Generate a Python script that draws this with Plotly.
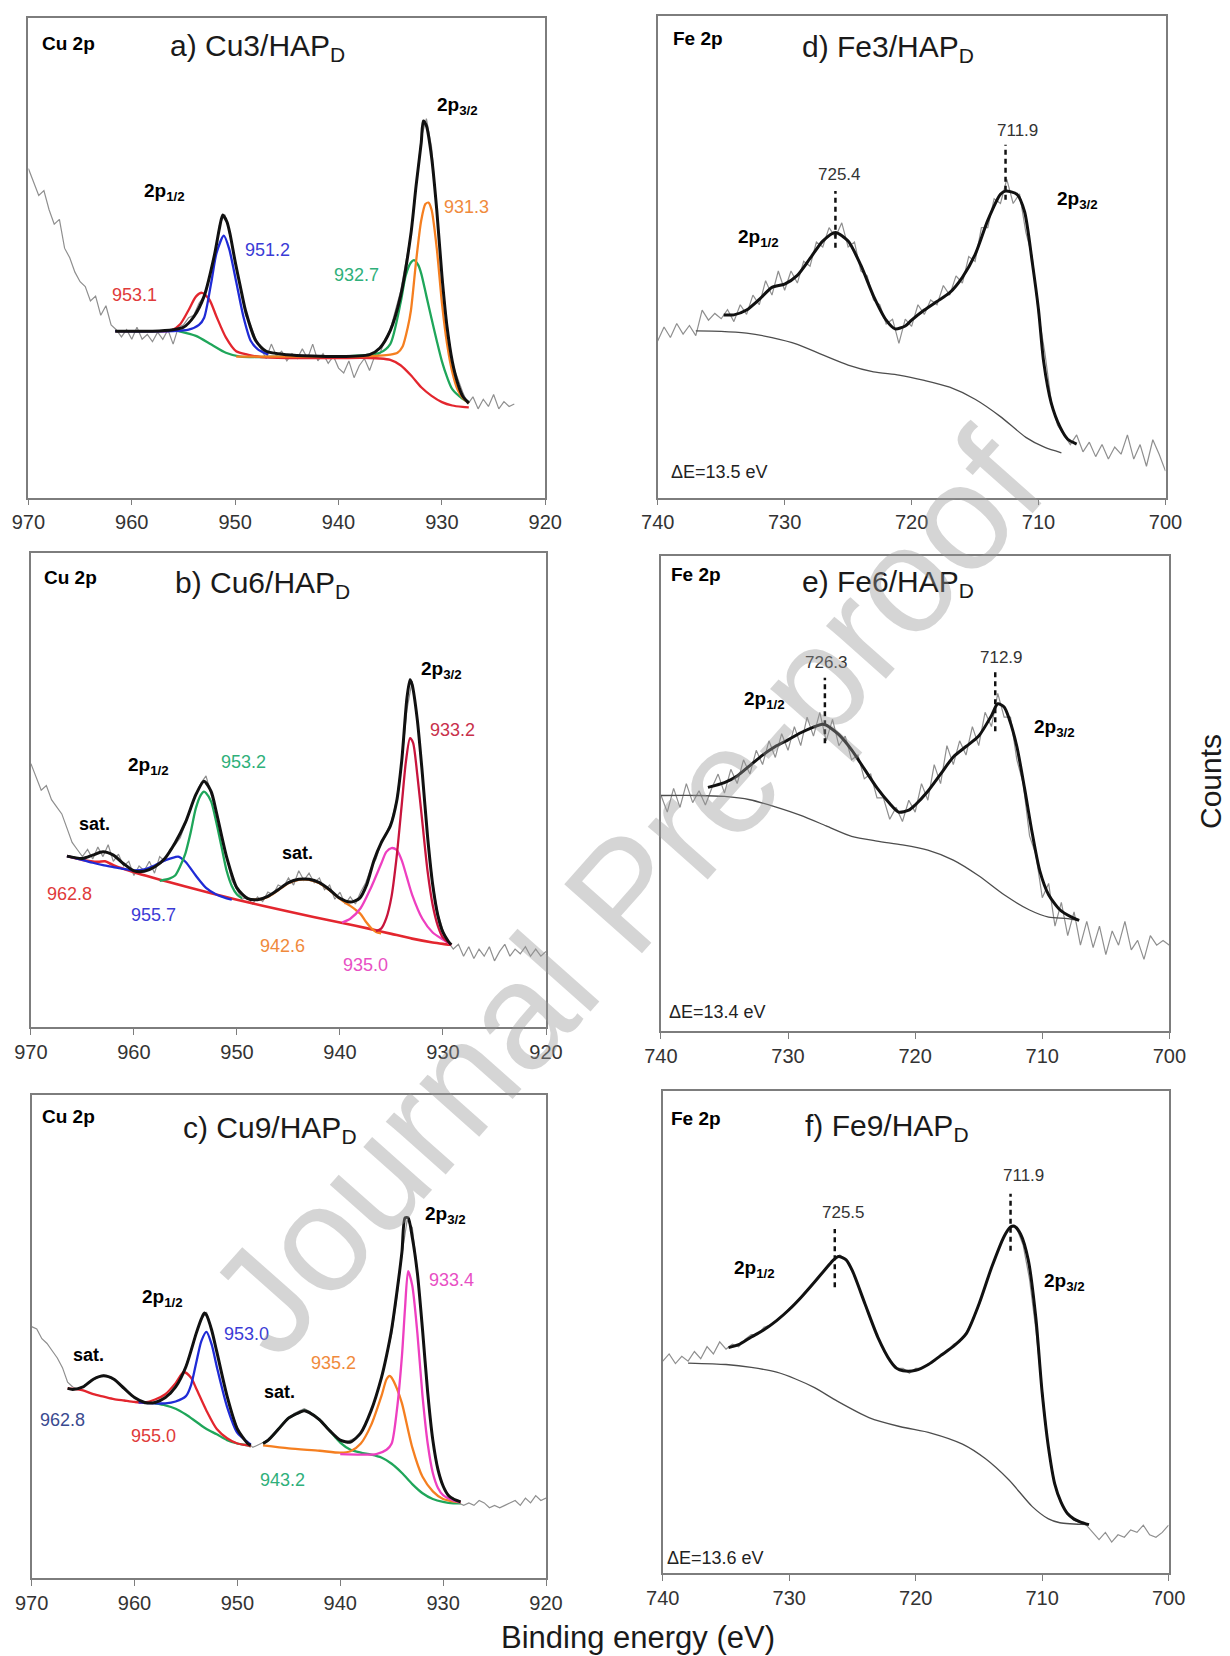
import plotly.graph_objects as go

W, H = 1230, 1656          # browser window
OFF = 8                    # page body margin in which the figure sits
FW, FH = W - OFF, H - OFF  # figure size
FONT = "Liberation Sans, Arial, sans-serif"

# ---------------- tick labels ----------------
cu_ticks = [970, 960, 950, 940, 930, 920]
fe_ticks = [740, 730, 720, 710, 700]

# ---------------- panel a : Cu3/HAPD ----------------
a_raw_start, a_raw_step = 970.0, -0.5
a_raw = [68.6, 66, 63, 64, 60, 57, 58, 52, 50, 47,
         45, 44, 41, 42, 38, 40, 36, 35, 33.5, 35,
         33, 35.5, 33, 34, 32.5, 34.5, 33, 35, 32, 35.5,
         36, 37.5, 38, 40.5, 42, 46, 50, 57, 59, 55,
         49, 44, 38, 36, 33, 31, 29, 32, 29.5, 30.5,
         28.5, 30, 29, 31, 29, 32, 28.5, 30, 28, 29.5,
         27, 26, 28.5, 25, 27.5, 29, 26.5, 29.5, 30, 33,
         35, 39, 43, 49, 55, 65, 75, 79, 73, 60,
         46, 36, 28, 25, 22, 19.5, 21, 18.5, 20.5, 19,
         21.5, 18.5, 20, 19, 19.5]
a_fit_x = [961.6, 958, 956, 955, 954, 953, 952, 951.5, 951.2, 950.8, 950.5, 950, 949.5, 949, 948, 947, 945, 940,
           937, 936, 935, 934, 933, 932.5, 932, 931.8, 931.5, 931, 930.5, 930, 929.5, 929, 928.5, 928, 927.4]
a_fit_y = [34.7, 34.7, 35.0, 35.5, 37.7, 42.0, 50.6, 56.4, 58.9, 57.5, 55.0, 49.2, 44.0, 39.0, 32.7, 30.5, 29.8, 29.4,
           29.8, 31.2, 34.8, 42.0, 55.0, 65.0, 74.0, 78.5, 77.5, 71.0, 60.0, 46.3, 35.5, 28.4, 24.0, 21.2, 19.7]
a_blue_x = [961.6, 956, 954.5, 953.5, 953, 952.3, 951.8, 951.1, 950.6, 949.9, 949.2, 948.5, 947.8, 946.8]
a_blue_y = [34.7, 34.7, 35.0, 36.0, 37.5, 45.0, 51.0, 54.6, 52.0, 45.0, 37.7, 32.7, 30.9, 29.8]
a_red_x = [961.6, 958, 956.2, 955.3, 954.5, 953.8, 953.2, 952.5, 951.8, 950.9, 949.9, 948.8, 947.5, 945, 940,
           937, 936, 935, 934, 933, 932, 931, 930, 929, 928, 927.4]
a_red_y = [34.7, 34.7, 34.8, 36.2, 39.1, 41.9, 42.7, 41.3, 37.7, 33.4, 30.5, 29.8, 29.3, 29.1, 29.1,
           29.1, 29.0, 28.7, 27.6, 25.5, 23.0, 21.2, 19.9, 19.2, 18.9, 18.8]
a_green_x = [955.5, 953.8, 952.3, 950.9, 949.5, 945, 940, 936, 935, 934, 933.5, 933, 932.7, 932.3, 932, 931.5,
             931, 930.5, 930, 929.5, 929, 928, 927.4]
a_green_y = [34.7, 33.7, 31.9, 30.2, 29.4, 29.4, 29.4, 30.2, 32.0, 40.6, 46.3, 49.0, 49.5, 48.5, 46.7, 42.0,
             37.3, 32.7, 28.4, 25.1, 22.6, 20.6, 19.9]
a_orange_x = [949.9, 945, 940, 936, 935, 934.3, 933.8, 933.3, 933, 932.5, 932, 931.6, 931.3, 931, 930.5, 930,
              929.5, 929, 928.5, 928, 927.4]
a_orange_y = [29.4, 29.4, 29.4, 29.6, 29.8, 30.2, 31.5, 35.5, 39.0, 49.2, 57.8, 61.2, 61.5, 60.0, 52.0, 40.6,
              32.0, 26.2, 22.6, 20.8, 19.7]

# ---------------- panel b : Cu6/HAPD ----------------
b_raw_start, b_raw_step = 970.0, -0.5
b_raw = [55.6, 53, 50, 51, 48, 46.5, 45, 42, 39, 37.5,
         36, 37.5, 35.5, 38, 36, 38.5, 35, 36.5, 34, 35,
         32, 34, 33, 35, 32.5, 36, 35, 37.5, 38.5, 40,
         43, 46, 49, 51.5, 53, 49, 45.5, 40, 36, 31,
         29, 27, 27.5, 26, 27.5, 26.5, 28.5, 28, 30, 29.5,
         31.5, 30, 33, 31, 32.5, 30.5, 31.5, 29, 30, 27,
         28.5, 26, 27.5, 26, 28.5, 30.5, 33.5, 35.5, 39, 41,
         43.5, 48, 56, 67, 73, 65.5, 53, 40, 30.5, 24,
         20.5, 18, 16.5, 17.5, 15, 17, 14.5, 16.5, 15, 17,
         14, 16, 17.5, 15, 16.5, 15.5, 17, 15, 16.5, 15,
         16]
b_fit_x = [966.5, 965, 964, 963, 962, 961, 960, 959, 958, 957, 956, 955, 954, 953.2, 952.5, 952, 951, 950, 949, 948,
           947, 946, 945, 944, 943, 942, 941, 940, 939, 938.1, 937.4, 936.7, 936, 935.1, 934.5, 934, 933.5, 933.2,
           933, 932.5, 932, 931.5, 931, 930.5, 930, 929.5, 929.2]
b_fit_y = [36.1, 35.6, 36.3, 37.0, 36.3, 34.5, 33.0, 32.9, 33.8, 35.6, 38.9, 43.2, 49.0, 51.9, 49.7, 45.4, 35.9, 29.4,
           27.2, 26.9, 27.6, 29.0, 30.5, 31.2, 31.2, 30.5, 29.0, 27.2, 26.4, 27.2, 30.1, 35.2, 38.9, 42.5, 47.6, 56.3,
           69.4, 73.3, 72.3, 65.0, 53.4, 40.3, 30.1, 23.6, 20.0, 18.2, 17.4]
b_red_x = [966.5, 965, 963.5, 962.8, 962, 960, 955, 950, 945, 940, 937, 935, 933, 931, 930, 929.2]
b_red_y = [36.1, 35.3, 34.9, 35.0, 34.2, 32.7, 29.7, 26.9, 24.4, 22.1, 20.7, 19.7, 18.7, 17.9, 17.6, 17.4]
b_crimson_x = [936.5, 936, 935.5, 935, 934.5, 934, 933.6, 933.2, 932.9, 932.5, 932, 931.5, 931, 930.5, 930, 929.2]
b_crimson_y = [20.3, 20.8, 23.0, 27.5, 35.9, 47.0, 56.0, 61.0, 60.0, 53.4, 43.2, 33.0, 25.8, 21.4, 18.9, 17.4]
b_magenta_x = [939.8, 939, 938, 937, 936, 935.5, 935, 934.5, 934, 933.5, 933, 932, 931, 930, 929.2]
b_magenta_y = [22.1, 22.9, 25.1, 29.4, 34.5, 37.0, 37.8, 37.4, 35.2, 31.6, 28.0, 22.9, 20.0, 18.5, 17.4]
b_orange_x = [949, 948, 947, 946, 945, 944, 943, 942, 941, 940, 939.5, 939, 938.5, 938, 937.5, 937, 936.5, 936]
b_orange_y = [27.1, 26.9, 27.5, 28.9, 30.4, 31.1, 31.1, 30.4, 28.9, 27.1, 26.3, 25.6, 24.8, 23.9, 22.3, 21.0, 20.1, 19.8]
b_blue_x = [966.5, 965, 964, 963, 962, 961, 960, 959, 958, 957, 956, 955.7, 955, 954, 953, 952, 951, 950.5]
b_blue_y = [36.1, 35.3, 34.7, 34.2, 33.8, 33.4, 33.1, 33.3, 34.1, 35.2, 35.9, 36.0, 34.9, 32.0, 29.4, 28.0, 27.2, 26.9]
b_green_x = [957.5, 956.5, 956, 955.5, 955, 954.5, 954, 953.5, 953.2, 953, 952.5, 952, 951.5, 951, 950.5, 950, 949.5]
b_green_y = [30.9, 31.4, 32.0, 34.0, 36.7, 41.0, 46.1, 49.0, 49.7, 49.4, 47.6, 43.2, 38.1, 33.0, 29.8, 28.0, 27.2]

# ---------------- panel c : Cu9/HAPD ----------------
c_raw_start, c_raw_step = 970.0, -0.5
c_raw = [52, 51.5, 49.5, 48.5, 47, 45.5, 43.5, 40.5, 39.5, 39,
         39.5, 40.5, 41, 41.5, 42, 41.5, 41, 40, 39, 38,
         37.5, 36.5, 36, 36.5, 36, 37, 37.5, 38, 39.5, 41.5,
         44, 47, 50.5, 53.5, 55, 51.5, 47, 42, 37.5, 34,
         31, 29, 28, 27, 27.5, 28, 28.5, 29.5, 31, 32,
         33, 34, 34.5, 35, 34.5, 33.5, 32.5, 31.5, 30.5, 29,
         28.5, 28, 28.5, 29, 30, 32, 34.5, 37.5, 41.5, 46,
         50.5, 58, 67, 74, 72.5, 63.5, 51, 38.5, 28.5, 22.5,
         19, 17, 16.5, 15.5, 15, 15.5, 15, 16, 15.5, 14.5,
         15, 14.5, 15, 15.5, 16, 15, 16.5, 15.5, 17, 16,
         16.5]
c_fit1_x = [966.5, 966, 965, 964, 963, 962, 961, 960, 959, 958, 957, 956, 955, 954, 953.5, 953.2, 953, 952.5, 952,
            951, 950, 949, 948.7]
c_fit1_y = [39.2, 39.0, 39.5, 41.1, 41.8, 41.1, 39.2, 37.3, 36.3, 36.3, 37.3, 39.5, 43.7, 50.6, 53.6, 54.8, 54.4, 51.3,
            46.8, 37.6, 30.8, 27.8, 27.4]
c_fit2_x = [947.5, 947, 946, 945, 944, 943.5, 943, 942, 941, 940, 939, 938, 937, 936, 935.5, 935, 934.5, 934, 933.7,
            933.4, 933, 932.5, 932, 931.5, 931, 930.5, 930, 929.5, 929, 928.3]
c_fit2_y = [27.8, 28.5, 30.8, 33.1, 34.2, 34.6, 34.2, 32.7, 30.4, 28.5, 28.1, 30.0, 34.6, 41.4, 46.0, 51.5, 59.0, 67.5,
            74.5, 74.5, 70.5, 63.0, 51.3, 38.4, 28.5, 22.4, 19.0, 17.1, 16.3, 15.7]
c_red_x = [966.5, 965, 964, 963, 962, 961, 960, 959, 958, 957, 956, 955.2, 954.5, 954, 953, 952, 951, 950, 949, 948.7]
c_red_y = [39.2, 38.8, 38.0, 37.5, 37.0, 36.7, 36.4, 36.3, 36.9, 38.0, 40.3, 42.6, 41.4, 39.2, 34.6, 30.8, 28.9, 27.8,
           27.4, 27.2]
c_blue_x = [959.6, 958, 957, 956, 955, 954.5, 954, 953.5, 953, 952.5, 952, 951, 950, 949, 948.7]
c_blue_y = [36.3, 36.1, 36.1, 36.5, 37.6, 39.9, 44.5, 49.0, 50.9, 48.3, 43.7, 35.4, 30.0, 28.1, 27.6]
c_green1_x = [958, 957, 956, 955, 954, 953, 952, 951, 950, 949, 948.7]
c_green1_y = [36.1, 35.7, 35.0, 33.8, 32.3, 30.8, 29.7, 28.5, 27.8, 27.4, 27.2]
c_green2_x = [947.5, 947, 946, 945, 944, 943.5, 943, 942, 941, 940, 939, 938, 937, 936, 935, 934, 933, 932, 931, 930,
              929, 928.3]
c_green2_y = [27.8, 28.5, 30.8, 33.1, 34.2, 34.6, 34.2, 32.7, 30.4, 28.0, 26.5, 25.9, 25.5, 24.9, 23.6, 21.7, 19.4,
              17.5, 16.3, 15.7, 15.4, 15.4]
c_orange_x = [947.5, 945, 942, 940, 939, 938, 937, 936, 935.5, 935.2, 935, 934.5, 934, 933, 932, 931, 930, 929, 928.3]
c_orange_y = [27.4, 26.8, 26.3, 25.9, 26.2, 27.8, 31.6, 37.6, 41.1, 41.8, 41.4, 39.2, 36.1, 27.0, 20.9, 17.9, 16.3,
              15.8, 15.6]
c_magenta_x = [940, 938, 936.5, 935.5, 935, 934.5, 934, 933.7, 933.4, 933, 932.5, 932, 931.5, 931, 930.5, 930, 929,
               928.3]
c_magenta_y = [25.6, 25.5, 25.6, 26.5, 27.8, 34.6, 46.0, 55.9, 63.5, 60.5, 50.6, 37.6, 27.8, 21.7, 18.6, 17.1, 16.0,
               15.6]

# ---------------- panel d : Fe3/HAPD ----------------
d_raw_start, d_raw_step = 740.0, -0.5
d_raw = [32.5, 35.4, 33.2, 36.1, 33.9, 35.7, 33.6, 38.9, 36.8, 38.2,
         37.1, 39, 36.5, 40, 38, 42, 40, 45, 42, 47,
         43, 47, 44.5, 49, 48, 53, 52, 56, 54, 57,
         52, 53, 47, 46, 41, 40, 36, 37, 32, 37,
         35.5, 40, 38, 41, 40, 44, 42, 46, 44.5, 50,
         49, 56, 56, 62, 61, 66, 61, 63, 55, 50,
         38, 30, 20, 15, 13, 11, 13, 9.5, 11.5, 8.5,
         11, 8, 10.5, 9, 13, 8, 11, 6.5, 12, 9,
         5.5]
d_fit_x = [734.8, 734, 733, 732, 731, 730, 729, 728, 727, 726, 725, 724, 723, 722, 721.3, 720.5, 720, 719, 718, 717,
           716, 715, 714, 713, 712.6, 711.7, 711.1, 710.5, 710, 709.6, 709, 708.3, 707.7, 707]
d_fit_y = [37.9, 37.9, 38.9, 41.1, 43.6, 44.3, 46.1, 49.6, 53.2, 55.0, 53.2, 48.2, 41.8, 36.8, 35.0, 35.6, 36.8, 38.9,
           40.7, 42.5, 45.7, 50.4, 57.5, 62.9, 63.6, 62.9, 59.3, 48.9, 38.9, 28.2, 19.6, 14.6, 12.1, 11.1]
d_bg_x = [737, 735, 733, 731, 729, 727, 725, 723, 721, 719, 717, 715, 713, 711, 709.5, 708.2]
d_bg_y = [34.6, 34.5, 34.1, 33.2, 31.8, 29.6, 27.5, 26.1, 25.4, 24.3, 22.9, 20.4, 16.8, 12.5, 10.4, 9.3]
d_peak_pos = [726.0, 712.6]
d_peak_lo = [51.8, 61.8]
d_peak_hi = [63.6, 73.2]
d_peak_labels = ["725.4", "711.9"]

# ---------------- panel e : Fe6/HAPD ----------------
e_raw_start, e_raw_step = 740.0, -0.5
e_raw = [49.6, 46, 51, 47, 52, 48, 50.5, 47.5, 51, 54,
         50, 55, 52, 57, 54, 59, 56, 61, 57.5, 62.5,
         59, 64, 60, 66, 62, 67, 61, 65.5, 60, 62,
         57, 58, 53, 54, 49, 49, 44.5, 47, 44, 48.5,
         46, 52, 48.5, 56, 52, 60, 56, 61, 58, 64,
         60, 67, 64, 71, 66, 66, 57, 52, 41, 37,
         28, 31, 22, 27, 20, 25, 18, 23, 17.5, 22,
         16, 21, 18, 23, 17, 19, 15, 20, 18, 19,
         18]
e_fit_x = [736.3, 735, 734, 733, 732, 731, 730, 729, 728, 727.3, 727, 726, 725, 724, 723, 722, 721.3, 720.5, 720,
           719, 718, 717, 716, 715, 714, 713.5, 713, 712.6, 712, 711.4, 710.8, 710.2, 709.5, 708.6, 707.7, 707.1]
e_fit_y = [51.2, 52.2, 53.6, 55.8, 58.0, 59.8, 61.2, 62.7, 63.9, 64.5, 64.3, 62.3, 59.1, 55.1, 51.1, 47.8, 46.0, 46.4,
           47.5, 50.4, 54.0, 57.6, 59.8, 62.0, 66.3, 68.8, 68.1, 65.6, 59.8, 51.1, 41.7, 33.7, 28.6, 25.4, 23.9, 23.2]
e_bg_x = [740, 737, 735, 733, 731, 729, 727, 725, 723, 721, 719, 717, 715, 713, 711, 709.5, 708, 707.1]
e_bg_y = [49.5, 49.5, 49.3, 48.6, 47.1, 45.3, 43.1, 40.9, 39.9, 39.1, 38.0, 35.9, 32.6, 28.6, 25.4, 23.9, 23.6, 23.2]
e_peak_pos = [727.1, 713.7]
e_peak_lo = [60.5, 63.0]
e_peak_hi = [74.3, 75.7]
e_peak_labels = ["726.3", "712.9"]

# ---------------- panel f : Fe9/HAPD ----------------
f_raw_start, f_raw_step = 740.0, -0.5
f_raw = [44, 45.5, 43.5, 45, 44, 46, 44.5, 47, 45.5, 48,
         46.5, 47.5, 47, 48.5, 49.5, 49.5, 51, 51.5, 52.5, 53.5,
         55, 56, 57.5, 59, 60.5, 62, 63.5, 65, 66, 65,
         62.5, 59.5, 55.5, 52, 49, 46, 44, 42.5, 42.5, 41.5,
         42.5, 42.5, 43.5, 44, 45.5, 46, 47.5, 48, 50, 52.5,
         55.5, 59.5, 63.5, 67, 70, 72, 71.5, 68, 61, 50.5,
         37.5, 26, 18.5, 14.5, 12.5, 11, 10.5, 10, 8.5, 7,
         8.5, 6.5, 8, 7.5, 9, 8.5, 10, 8, 7.5, 8.5,
         10]
f_fit_x = [734.8, 734, 733, 732, 731, 730, 729, 728, 727, 726.5, 726.1, 725.5, 725, 724, 723, 722, 721.5, 721, 720,
           719, 718, 717, 716, 715, 714, 713, 712.5, 712.2, 711.7, 711.1, 710.5, 710, 709.5, 709, 708.5, 708, 707.5,
           707, 706.3]
f_fit_y = [46.8, 47.4, 49.0, 50.5, 52.4, 54.7, 57.4, 60.4, 63.5, 65.0, 65.7, 65.0, 62.7, 55.8, 49.0, 44.0, 42.5, 42.0,
           42.1, 43.3, 45.2, 47.1, 49.7, 55.8, 63.4, 69.9, 71.8, 72.0, 70.3, 65.0, 53.0, 37.5, 26.1, 18.5, 14.7, 12.4,
           11.3, 10.7, 10.1]
f_bg_x = [738, 735, 733, 731, 729.5, 728, 726.2, 723.7, 721.2, 718.8, 716.3, 714.5, 712.6, 710.8, 709.5, 708.6, 706.3]
f_bg_y = [43.6, 43.3, 42.7, 41.7, 40.3, 38.5, 35.7, 32.3, 30.4, 29.1, 26.8, 23.8, 19.3, 13.9, 11.3, 10.5, 10.1]
f_peak_pos = [726.4, 712.5]
f_peak_lo = [59.3, 66.9]
f_peak_hi = [71.4, 78.7]
f_peak_labels = ["725.5", "711.9"]

# ---------------- styles ----------------
BLACK = "#111111"
RED = "#e3262e"
BLUE = "#1f2bd6"
GREEN = "#1fa65a"
ORANGE = "#f57f20"
MAGENTA = "#ee3fc0"
CRIMSON = "#c8143c"
NAVY = "#3a4a90"
RAW = "#8f8f8f"
BG = "#4d4d4d"
FRAME = "#7d7d7d"

fig = go.Figure()

# panel boxes in window pixels (left, right, top, bottom)
boxes = {
    "a": (28.4, 545.3, 17.9, 497.6),
    "d": (657.7, 1165.5, 15.5, 497.6),
    "b": (30.9, 546.0, 553.1, 1027.3),
    "e": (660.9, 1169.4, 555.5, 1030.7),
    "c": (31.6, 546.0, 1094.7, 1577.8),
    "f": (662.8, 1168.6, 1091.0, 1573.4),
}
order = ["a", "d", "b", "e", "c", "f"]
axis_id = {k: i + 1 for i, k in enumerate(order)}


def px_x(px):
    return (px - OFF) / FW


def px_y(py):
    return 1 - (py - OFF) / FH


def refs(k):
    i = axis_id[k]
    return ("x" if i == 1 else f"x{i}"), ("y" if i == 1 else f"y{i}")


def raw_trace(k, start, step, vals):
    xr, yr = refs(k)
    xs = [start + i * step for i in range(len(vals))]
    fig.add_trace(go.Scatter(x=xs, y=vals, mode="lines", xaxis=xr, yaxis=yr,
                             line=dict(color=RAW, width=1.2), hoverinfo="skip"))


def curve(k, xs, ys, color, width=2.3):
    xr, yr = refs(k)
    fig.add_trace(go.Scatter(x=xs, y=ys, mode="lines", xaxis=xr, yaxis=yr,
                             line=dict(color=color, width=width, shape="spline", smoothing=0.7),
                             hoverinfo="skip"))


def dashes(k, pos, lo, hi):
    xr, yr = refs(k)
    for p, l, h in zip(pos, lo, hi):
        fig.add_trace(go.Scatter(x=[p, p], y=[l, h], mode="lines", xaxis=xr, yaxis=yr,
                                 line=dict(color=BLACK, width=2.5, dash="5px,4px"), hoverinfo="skip"))


# panel a
raw_trace("a", a_raw_start, a_raw_step, a_raw)
curve("a", a_green_x, a_green_y, GREEN)
curve("a", a_red_x, a_red_y, RED)
curve("a", a_blue_x, a_blue_y, BLUE)
curve("a", a_orange_x, a_orange_y, ORANGE)
curve("a", a_fit_x, a_fit_y, BLACK, 3)

# panel b
raw_trace("b", b_raw_start, b_raw_step, b_raw)
curve("b", b_red_x, b_red_y, RED, 2.6)
curve("b", b_blue_x, b_blue_y, BLUE)
curve("b", b_green_x, b_green_y, GREEN)
curve("b", b_orange_x, b_orange_y, ORANGE)
curve("b", b_magenta_x, b_magenta_y, MAGENTA)
curve("b", b_crimson_x, b_crimson_y, CRIMSON)
curve("b", b_fit_x, b_fit_y, BLACK, 3)

# panel c
raw_trace("c", c_raw_start, c_raw_step, c_raw)
curve("c", c_green1_x, c_green1_y, GREEN)
curve("c", c_green2_x, c_green2_y, GREEN)
curve("c", c_red_x, c_red_y, RED)
curve("c", c_blue_x, c_blue_y, BLUE)
curve("c", c_orange_x, c_orange_y, ORANGE)
curve("c", c_magenta_x, c_magenta_y, MAGENTA)
curve("c", c_fit1_x, c_fit1_y, BLACK, 3)
curve("c", c_fit2_x, c_fit2_y, BLACK, 3)

# Fe panels
for k, rs, rstep, rv, bx, by, fx, fy, pp, pl, ph in [
    ("d", d_raw_start, d_raw_step, d_raw, d_bg_x, d_bg_y, d_fit_x, d_fit_y, d_peak_pos, d_peak_lo, d_peak_hi),
    ("e", e_raw_start, e_raw_step, e_raw, e_bg_x, e_bg_y, e_fit_x, e_fit_y, e_peak_pos, e_peak_lo, e_peak_hi),
    ("f", f_raw_start, f_raw_step, f_raw, f_bg_x, f_bg_y, f_fit_x, f_fit_y, f_peak_pos, f_peak_lo, f_peak_hi),
]:
    raw_trace(k, rs, rstep, rv)
    curve(k, bx, by, BG, 1.3)
    curve(k, fx, fy, BLACK, 3)
    dashes(k, pp, pl, ph)

# axes
layout_axes = {}
for k in order:
    i = axis_id[k]
    l, r, t, b = boxes[k]
    cu = k in ("a", "b", "c")
    xname = "xaxis" if i == 1 else f"xaxis{i}"
    yname = "yaxis" if i == 1 else f"yaxis{i}"
    layout_axes[xname] = dict(
        domain=[px_x(l), px_x(r)], anchor=refs(k)[1],
        range=[970, 920] if cu else [740, 700],
        tickvals=cu_ticks if cu else fe_ticks,
        ticktext=[str(v) for v in (cu_ticks if cu else fe_ticks)],
        showline=True, linecolor=FRAME, linewidth=1.6, mirror=True,
        ticks="outside", ticklen=6, tickwidth=1.4, tickcolor=FRAME,
        tickfont=dict(size=20, color="#333333", family=FONT),
        ticklabelstandoff=0, automargin=False,
        showgrid=False, zeroline=False, fixedrange=True)
    layout_axes[yname] = dict(
        domain=[px_y(b), px_y(t)], anchor=refs(k)[0], range=[0, 100],
        showline=True, linecolor=FRAME, linewidth=1.6, mirror=True, automargin=False,
        showticklabels=False, ticks="", showgrid=False, zeroline=False, fixedrange=True)

annotations = []


def ann(px, py, text, size, color="#000000", xanchor="center", angle=0):
    annotations.append(dict(x=px_x(px), y=px_y(py), xref="paper", yref="paper", text=text,
                            showarrow=False, xanchor=xanchor, yanchor="middle", textangle=angle,
                            font=dict(size=size, color=color, family=FONT)))


# headers and titles
for k, elem, title, (hx, hy), (tx, ty) in [
    ("a", "Cu 2p", "a) Cu3/HAP<sub>D</sub>", (40, 43), (168, 48)),
    ("b", "Cu 2p", "b) Cu6/HAP<sub>D</sub>", (42, 577), (172.7, 584)),
    ("c", "Cu 2p", "c) Cu9/HAP<sub>D</sub>", (40, 1116), (180.7, 1129)),
    ("d", "Fe 2p", "d) Fe3/HAP<sub>D</sub>", (670.6, 38), (799.8, 49)),
    ("e", "Fe 2p", "e) Fe6/HAP<sub>D</sub>", (668.6, 574.4), (799.8, 583)),
    ("f", "Fe 2p", "f) Fe9/HAP<sub>D</sub>", (668.6, 1118.6), (803, 1127)),
]:
    ann(hx, hy, f"<b>{elem}</b>", 19, xanchor="left")
    ann(tx, ty, title, 30, color="#1a1a1a", xanchor="left")

P12 = "<b>2p<sub>1/2</sub></b>"
P32 = "<b>2p<sub>3/2</sub></b>"

# panel a labels
ann(164, 192, P12, 19)
ann(457, 106, P32, 19)
ann(267, 250, "951.2", 18, "#3b3bd6")
ann(134, 295, "953.1", 18, "#e03a3a")
ann(356, 275, "932.7", 18, "#2fb07a")
ann(467, 207, "931.3", 18, "#f08a3c")
# panel b labels
ann(148, 766, P12, 19)
ann(441, 670, P32, 19)
ann(94, 824, "<b>sat.</b>", 18)
ann(297, 853, "<b>sat.</b>", 18)
ann(243.5, 762, "953.2", 18, "#2fb07a")
ann(452.5, 730, "933.2", 18, "#c8304a")
ann(69, 894, "962.8", 18, "#e03a3a")
ann(153, 915, "955.7", 18, "#3b3bd6")
ann(282, 946, "942.6", 18, "#f08a3c")
ann(365, 965, "935.0", 18, "#e84fc4")
# panel c labels
ann(162, 1298, P12, 19)
ann(445, 1215, P32, 19)
ann(88, 1355, "<b>sat.</b>", 18)
ann(279, 1392, "<b>sat.</b>", 18)
ann(246, 1334, "953.0", 18, "#3b3bd6")
ann(451, 1280, "933.4", 18, "#e84fc4")
ann(333, 1363, "935.2", 18, "#f08a3c")
ann(62.5, 1420, "962.8", 18, NAVY)
ann(153.5, 1436, "955.0", 18, "#e03a3a")
ann(282.5, 1480, "943.2", 18, "#2fb07a")
# panel d labels
ann(839, 175, d_peak_labels[0], 17, "#333333")
ann(1017, 130, d_peak_labels[1], 17, "#333333")
ann(758, 238, P12, 19)
ann(1077, 200, P32, 19)
ann(668.6, 472, "ΔE=13.5 eV", 18, "#222222", xanchor="left")
# panel e labels
ann(826, 662, e_peak_labels[0], 17, "#333333")
ann(1001, 657, e_peak_labels[1], 17, "#333333")
ann(764, 700, P12, 19)
ann(1054, 728, P32, 19)
ann(666.7, 1012, "ΔE=13.4 eV", 18, "#222222", xanchor="left")
# panel f labels
ann(843, 1212, f_peak_labels[0], 17, "#333333")
ann(1023, 1175, f_peak_labels[1], 17, "#333333")
ann(754, 1269, P12, 19)
ann(1064, 1282, P32, 19)
ann(664.7, 1558, "ΔE=13.6 eV", 18, "#222222", xanchor="left")

# common axis titles
ann(638, 1637, "Binding energy (eV)", 31, "#1a1a1a")
ann(1210, 782, "Counts", 30, "#1a1a1a", angle=-90)

# watermark
ann(626, 893, "Journal Pre-proof", 151, "rgba(150,150,150,0.40)", angle=-48.4)

fig.update_layout(width=FW, height=FH, autosize=False, margin=dict(l=0, r=0, t=0, b=0, pad=0),
                  paper_bgcolor="white", plot_bgcolor="white", showlegend=False,
                  annotations=annotations, **layout_axes)

fig.write_html("out.html")
